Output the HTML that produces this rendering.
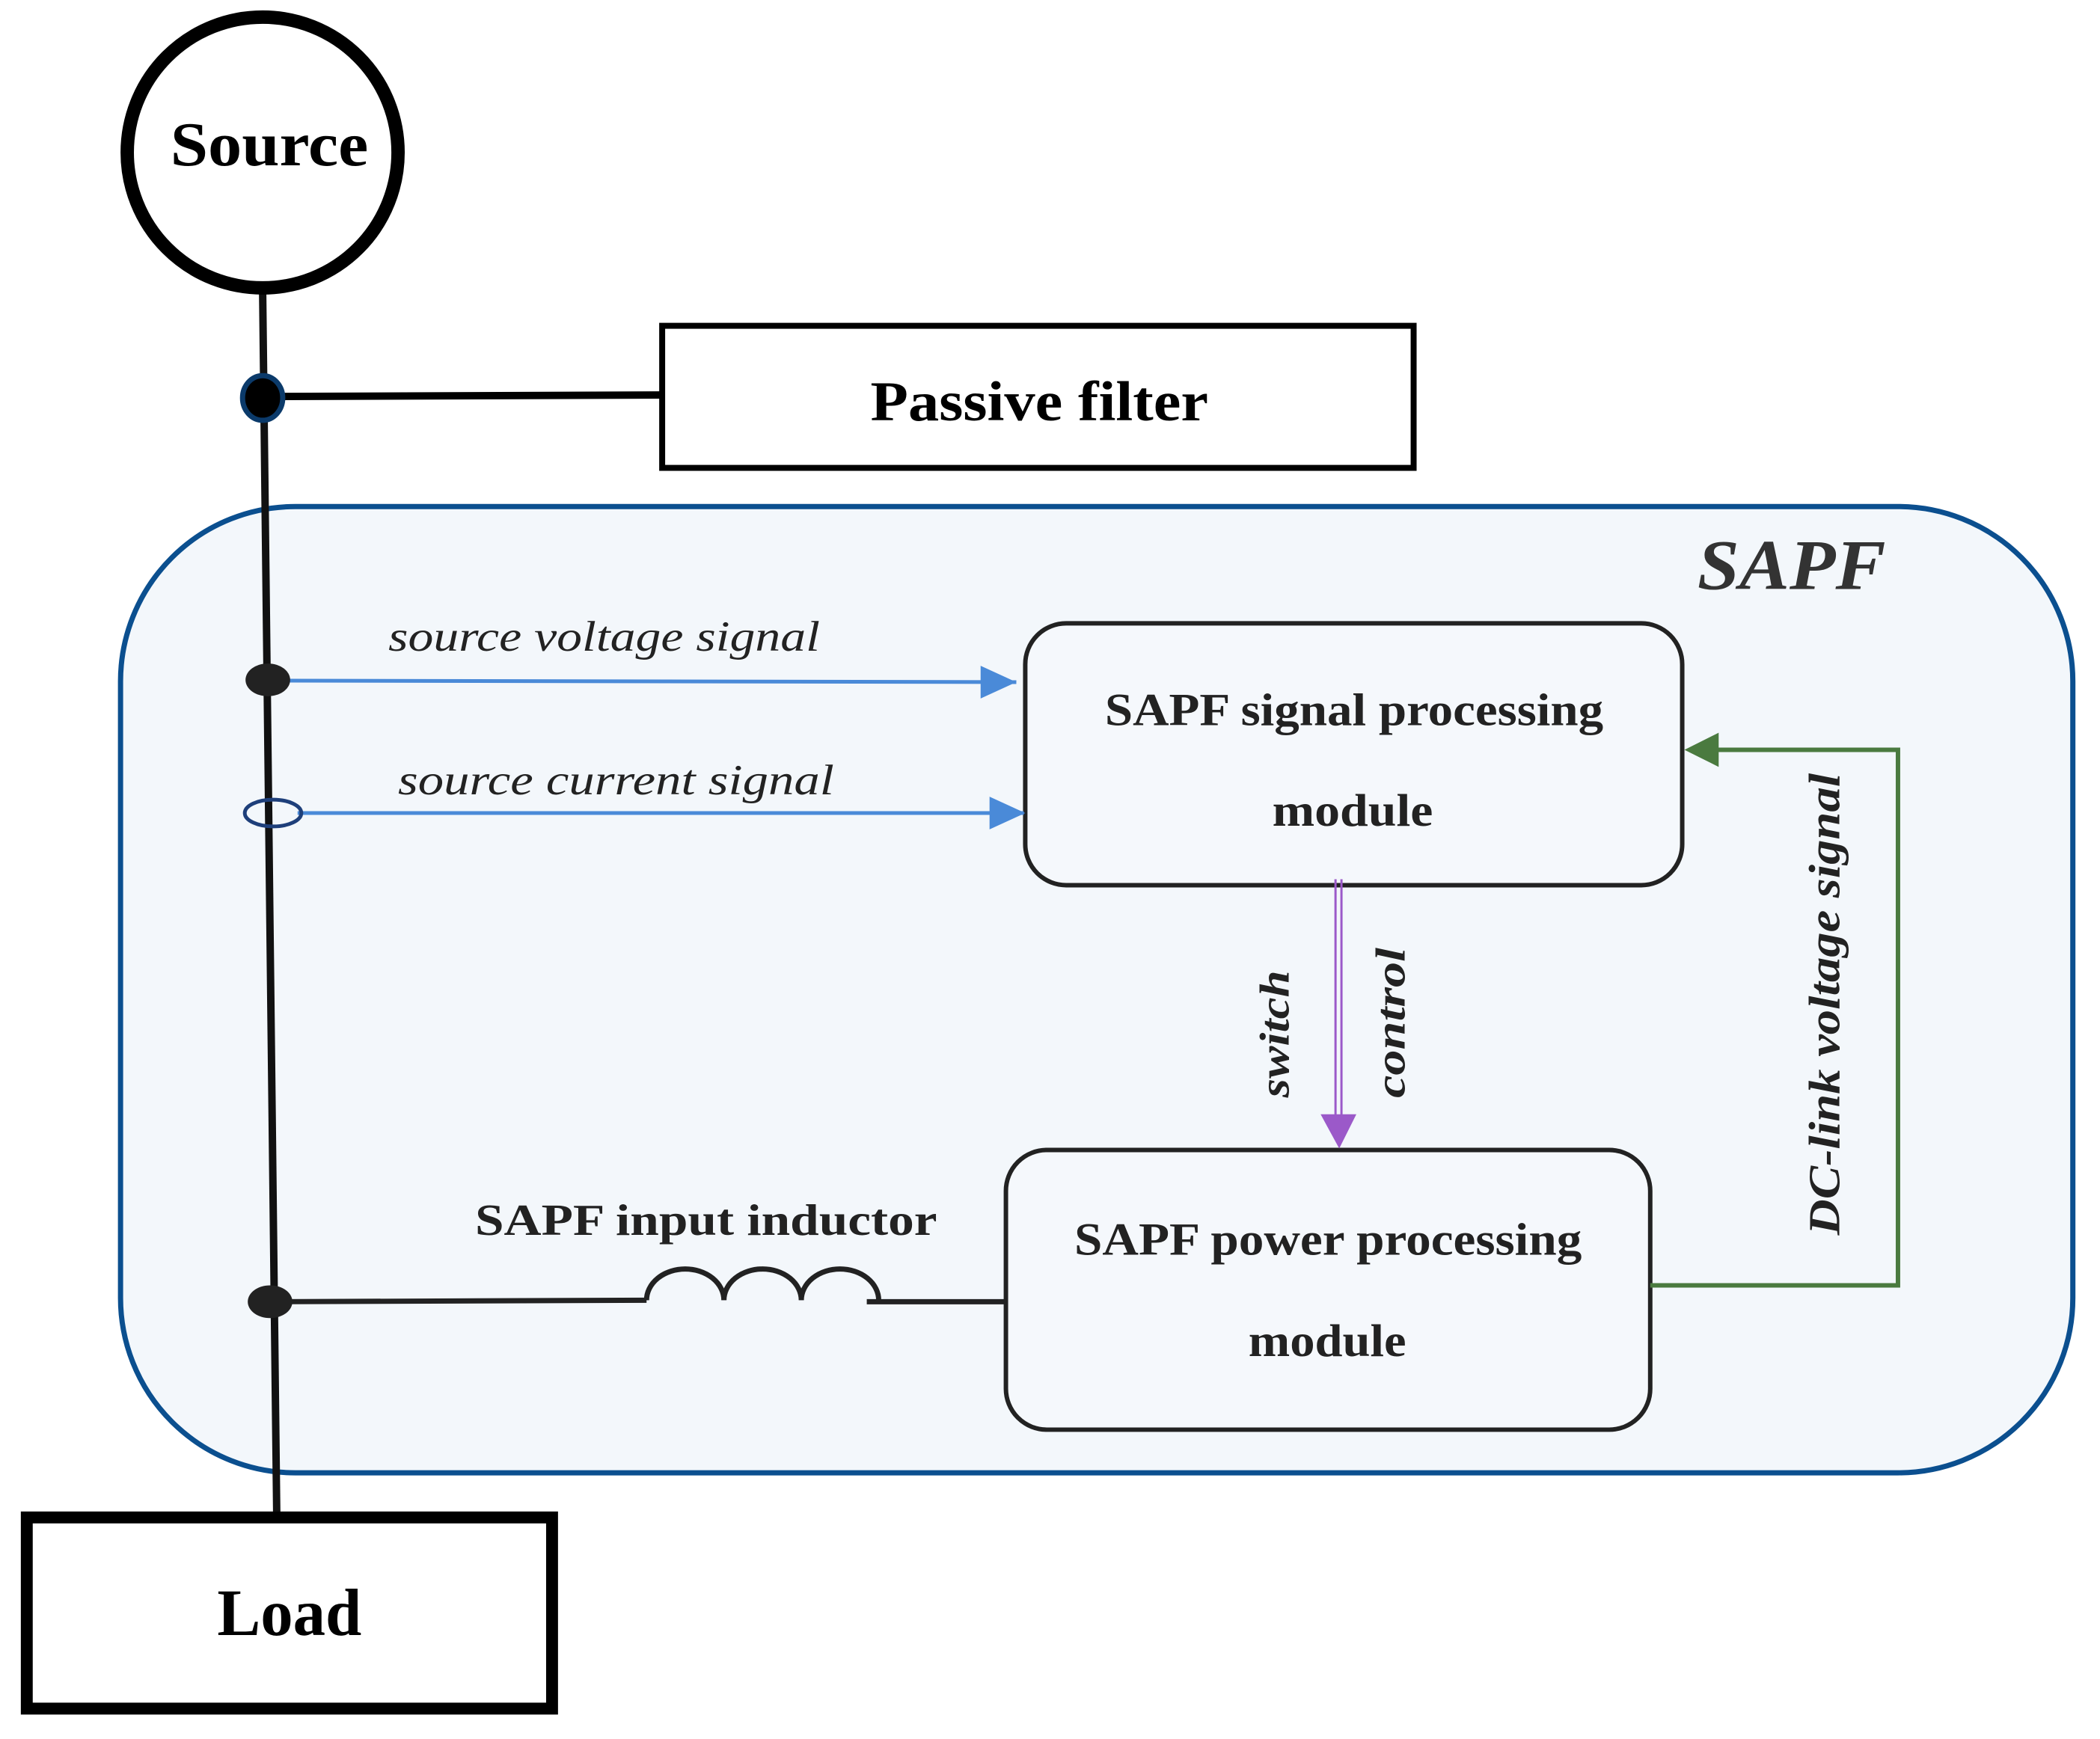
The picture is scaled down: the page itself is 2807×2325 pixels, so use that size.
<!DOCTYPE html>
<html><head><meta charset="utf-8"><style>html,body{margin:0;padding:0;background:#fff}svg{display:block}</style></head>
<body>
<svg width="2807" height="2325" viewBox="0 0 2807 2325" xmlns="http://www.w3.org/2000/svg" font-family="Liberation Serif, serif">
<g transform="scale(0.9945)">
<!-- SAPF container -->
<rect x="162" y="681" width="2624" height="1299" rx="235" ry="235" fill="#f3f7fb" stroke="#0b4f8f" stroke-width="7"/>
<!-- main vertical line -->
<line x1="353" y1="390" x2="372" y2="2040" stroke="#111" stroke-width="10"/>
<!-- source -->
<circle cx="353" cy="205" r="182" fill="#fff" stroke="#000" stroke-width="18"/>
<text x="362" y="222" font-size="84" font-weight="bold" text-anchor="middle" textLength="266" lengthAdjust="spacingAndGlyphs">Source</text>
<!-- junction -->
<line x1="380" y1="533" x2="892" y2="531" stroke="#000" stroke-width="10"/>
<ellipse cx="353" cy="535" rx="27" ry="30" fill="#000" stroke="#0b3a6a" stroke-width="7"/>
<rect x="890" y="438" width="1010" height="191" fill="#fff" stroke="#000" stroke-width="8"/>
<text x="1397" y="565" font-size="76" font-weight="bold" text-anchor="middle" textLength="454" lengthAdjust="spacingAndGlyphs">Passive filter</text>
<!-- SAPF label -->
<text x="2408" y="792" font-size="96" font-weight="bold" font-style="italic" fill="#333" text-anchor="middle" textLength="253" lengthAdjust="spacingAndGlyphs">SAPF</text>
<!-- signal box -->
<rect x="1378" y="838" width="883" height="352" rx="55" fill="#f5f8fc" stroke="#222" stroke-width="6"/>
<text x="1820" y="975" font-size="62" font-weight="bold" fill="#222" text-anchor="middle" textLength="670" lengthAdjust="spacingAndGlyphs">SAPF signal processing</text>
<text x="1818" y="1110" font-size="62" font-weight="bold" fill="#222" text-anchor="middle" textLength="216" lengthAdjust="spacingAndGlyphs">module</text>
<!-- power box -->
<rect x="1352" y="1546" width="866" height="376" rx="55" fill="#f5f8fc" stroke="#222" stroke-width="6"/>
<text x="1785" y="1687" font-size="62" font-weight="bold" fill="#222" text-anchor="middle" textLength="682" lengthAdjust="spacingAndGlyphs">SAPF power processing</text>
<text x="1784" y="1823" font-size="62" font-weight="bold" fill="#222" text-anchor="middle" textLength="212" lengthAdjust="spacingAndGlyphs">module</text>
<!-- blue arrows -->
<line x1="385" y1="915" x2="1366" y2="917" stroke="#4a8ad8" stroke-width="5"/>
<path d="M1318,895 L1366,917 L1318,939 z" fill="#4a8ad8"/>
<line x1="400" y1="1093" x2="1376" y2="1093" stroke="#4a8ad8" stroke-width="5"/>
<path d="M1330,1071 L1378,1093 L1330,1115 z" fill="#4a8ad8"/>
<ellipse cx="360" cy="914" rx="30" ry="22" fill="#222"/>
<ellipse cx="367" cy="1093" rx="38" ry="18" fill="none" stroke="#1e3f7a" stroke-width="5"/>
<ellipse cx="363" cy="1750" rx="30" ry="22" fill="#222"/>
<text x="812" y="875" font-size="58" font-style="italic" fill="#222" text-anchor="middle" textLength="580" lengthAdjust="spacingAndGlyphs">source voltage signal</text>
<text x="828" y="1068" font-size="58" font-style="italic" fill="#222" text-anchor="middle" textLength="586" lengthAdjust="spacingAndGlyphs">source current signal</text>
<!-- purple -->
<line x1="1795" y1="1182" x2="1795" y2="1500" stroke="#9b59c9" stroke-width="3"/>
<line x1="1803" y1="1182" x2="1803" y2="1500" stroke="#9b59c9" stroke-width="3"/>
<path d="M1775,1498 L1823,1498 L1800,1544 z" fill="#9b59c9"/>
<text transform="translate(1732,1390) rotate(-90)" font-size="56" font-weight="bold" font-style="italic" fill="#222" text-anchor="middle" textLength="171" lengthAdjust="spacingAndGlyphs">switch</text>
<text transform="translate(1888,1375) rotate(-90)" font-size="56" font-weight="bold" font-style="italic" fill="#222" text-anchor="middle" textLength="202" lengthAdjust="spacingAndGlyphs">control</text>
<!-- green -->
<polyline points="2218,1728 2551,1728 2551,1008 2300,1008" fill="none" stroke="#4a7a3f" stroke-width="6"/>
<path d="M2310,985 L2264,1008 L2310,1031 z" fill="#4a7a3f"/>
<text transform="translate(2472,1350) rotate(-90)" font-size="60" font-weight="bold" font-style="italic" fill="#222" text-anchor="middle" textLength="621" lengthAdjust="spacingAndGlyphs">DC-link voltage signal</text>
<!-- inductor -->
<polyline points="363,1750 869,1748" fill="none" stroke="#222" stroke-width="7"/>
<path d="M869,1748 a52,42 0 0 1 104,0 a52,42 0 0 1 104,0 a52,42 0 0 1 104,0" fill="none" stroke="#222" stroke-width="7"/>
<line x1="1165" y1="1750" x2="1352" y2="1750" stroke="#222" stroke-width="7"/>
<text x="949" y="1660" font-size="60" font-weight="bold" fill="#222" text-anchor="middle" textLength="621" lengthAdjust="spacingAndGlyphs">SAPF  input  inductor</text>
<!-- load -->
<rect x="36" y="2040" width="706" height="257" fill="#fff" stroke="#000" stroke-width="16"/>
<text x="389" y="2198" font-size="90" font-weight="bold" text-anchor="middle" textLength="194" lengthAdjust="spacingAndGlyphs">Load</text>
</g>
</svg>
</body></html>
